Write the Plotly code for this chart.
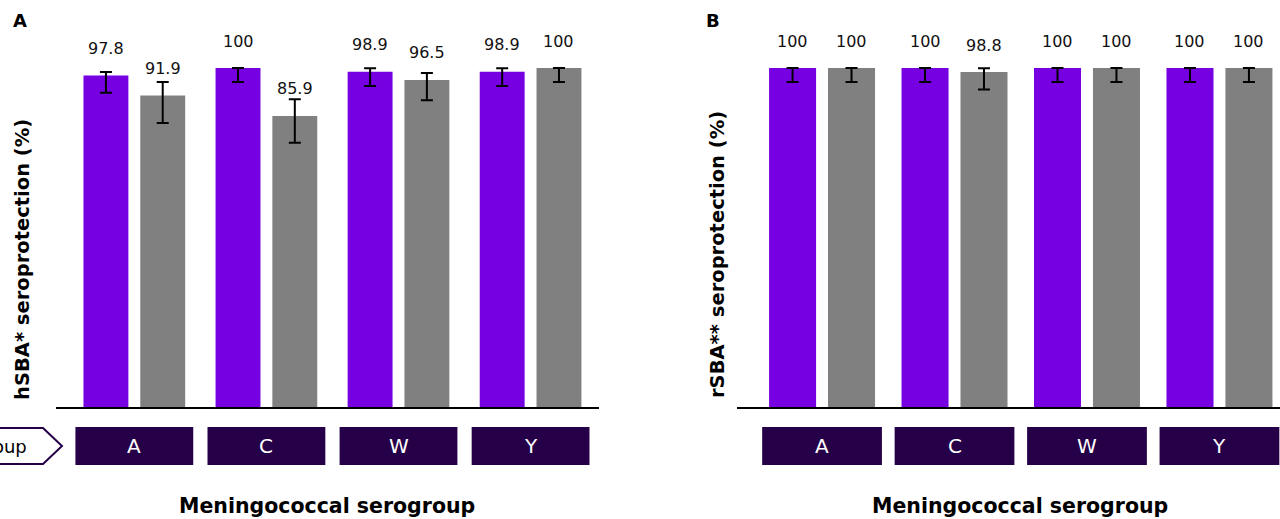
import plotly.graph_objects as go

# ---------------- data ----------------
serogroups = ["A", "C", "W", "Y"]

# Panel A: hSBA seroprotection (%)
hsba_purple = [97.8, 100, 98.9, 98.9]
hsba_purple_hi = [98.8, 100, 99.9, 99.9]
hsba_purple_lo = [92.7, 95.9, 94.7, 94.7]
hsba_gray = [91.9, 85.9, 96.5, 100]
hsba_gray_hi = [95.9, 90.8, 98.5, 100]
hsba_gray_lo = [83.8, 78.0, 90.5, 95.9]

# Panel B: rSBA seroprotection (%)
rsba_purple = [100, 100, 100, 100]
rsba_purple_hi = [100, 100, 100, 100]
rsba_purple_lo = [95.9, 95.9, 95.9, 95.9]
rsba_gray = [100, 98.8, 100, 100]
rsba_gray_hi = [100, 99.9, 100, 100]
rsba_gray_lo = [95.9, 93.7, 95.9, 95.9]

panel_letters = ["A", "B"]
y_titles = ["hSBA* seroprotection (%)", "rSBA** seroprotection (%)"]
x_title = "Meningococcal serogroup"
row_label = "Serogroup"

# ---------------- style ----------------
W, H = 1280, 519
PURPLE = "#7700E2"
GRAY = "#808080"
DARK = "#250048"
FONT = "DejaVu Sans"

def py(p):  # pixel y -> paper
    return (H - p) / H

def px(p):
    return p / W

fig = go.Figure()

panels = [
    dict(xa="x", ya="y", purple=(hsba_purple, hsba_purple_hi, hsba_purple_lo),
         gray=(hsba_gray, hsba_gray_hi, hsba_gray_lo),
         width=0.34, off_p=-0.385, off_g=0.045, box_half=0.446),
    dict(xa="x2", ya="y2", purple=(rsba_purple, rsba_purple_hi, rsba_purple_lo),
         gray=(rsba_gray, rsba_gray_hi, rsba_gray_lo),
         width=0.355, off_p=-0.40, off_g=0.045, box_half=0.452),
]

annotations = []
shapes = []

for p in panels:
    for key, color, off in (("purple", PURPLE, p["off_p"]), ("gray", GRAY, p["off_g"])):
        vals, hi, lo = p[key]
        fig.add_trace(go.Bar(
            x=serogroups, y=vals, xaxis=p["xa"], yaxis=p["ya"],
            marker=dict(color=color, line=dict(width=0)),
            width=p["width"], offset=off,
            error_y=dict(type="data", symmetric=False,
                         array=[h - v for h, v in zip(hi, vals)],
                         arrayminus=[v - l for v, l in zip(vals, lo)],
                         color="black", thickness=2, width=6),
            showlegend=False, hoverinfo="skip",
        ))
        for i, v in enumerate(vals):
            annotations.append(dict(
                x=i + off + p["width"] / 2, y=v, xref=p["xa"], yref=p["ya"],
                text=f"{v:g}", showarrow=False, xanchor="center", yanchor="middle",
                yshift=27, font=dict(family=FONT, size=16, color="#111111")))
    # category boxes
    for i, s in enumerate(serogroups):
        shapes.append(dict(type="rect", xref=p["xa"], yref="paper",
                           x0=i - p["box_half"], x1=i + p["box_half"],
                           y0=py(465), y1=py(427), fillcolor=DARK,
                           line=dict(width=0), layer="above"))
        annotations.append(dict(x=i, y=py(446), xref=p["xa"], yref="paper",
                                text=s, showarrow=False, xanchor="center",
                                yanchor="middle",
                                font=dict(family=FONT, size=20, color="white")))

# axis baselines
shapes.append(dict(type="line", xref="paper", yref="paper", x0=px(56), x1=px(599),
                   y0=py(408), y1=py(408), line=dict(color="black", width=2)))
shapes.append(dict(type="line", xref="paper", yref="paper", x0=px(737), x1=px(1280),
                   y0=py(408), y1=py(408), line=dict(color="black", width=2)))

# "Serogroup" arrow tag on the left (cut by the left edge, as in the original)
shapes.append(dict(type="path", xref="paper", yref="paper",
                   path=f"M {px(-140)} {py(428)} L {px(43)} {py(428)} L {px(62)} {py(446)} "
                        f"L {px(43)} {py(464)} L {px(-140)} {py(464)} Z",
                   fillcolor="white", line=dict(color=DARK, width=2)))
annotations.append(dict(x=px(29), y=py(446), xref="paper", yref="paper",
                        xanchor="right", yanchor="middle", text=row_label,
                        showarrow=False, font=dict(family=FONT, size=18, color="black")))

# panel letters, y titles, x titles
for letter, xl in zip(panel_letters, (20, 713)):
    annotations.append(dict(x=px(xl), y=py(20), xref="paper", yref="paper",
                            xanchor="center", yanchor="middle",
                            text=f"<b>{letter}</b>", showarrow=False,
                            font=dict(family=FONT, size=18, color="black")))
for t, xl, yl in zip(y_titles, (22, 717), (260, 255)):
    annotations.append(dict(x=px(xl), y=py(yl), xref="paper", yref="paper",
                            xanchor="center", yanchor="middle",
                            text=f"<b>{t}</b>", textangle=-90, showarrow=False,
                            font=dict(family=FONT, size=19.5, color="black")))
for xl in (327, 1020):
    annotations.append(dict(x=px(xl), y=py(506), xref="paper", yref="paper",
                            xanchor="center", yanchor="middle",
                            text=f"<b>{x_title}</b>", showarrow=False,
                            font=dict(family=FONT, size=20.5, color="black")))

yrange = [0, (408 - 20) / 3.4]
common_x = dict(showgrid=False, showticklabels=False, ticks="", zeroline=False,
                showline=False, type="category")
common_y = dict(showgrid=False, showticklabels=False, ticks="", zeroline=False,
                showline=False, range=yrange, domain=[py(408), py(20)])

fig.update_layout(
    width=W, height=H,
    margin=dict(l=0, r=0, t=0, b=0),
    paper_bgcolor="white", plot_bgcolor="white",
    xaxis=dict(common_x, domain=[px(56), px(599)], range=[-0.593, 3.518]),
    xaxis2=dict(common_x, domain=[px(737), 1.0], range=[-0.642, 3.457]),
    yaxis=dict(common_y, anchor="x"),
    yaxis2=dict(common_y, anchor="x2"),
    shapes=shapes, annotations=annotations,
    font=dict(family=FONT),
)

fig.write_html("out.html", config={"displayModeBar": False},
               post_script="document.body.style.margin='0';document.body.style.overflow='hidden';")
